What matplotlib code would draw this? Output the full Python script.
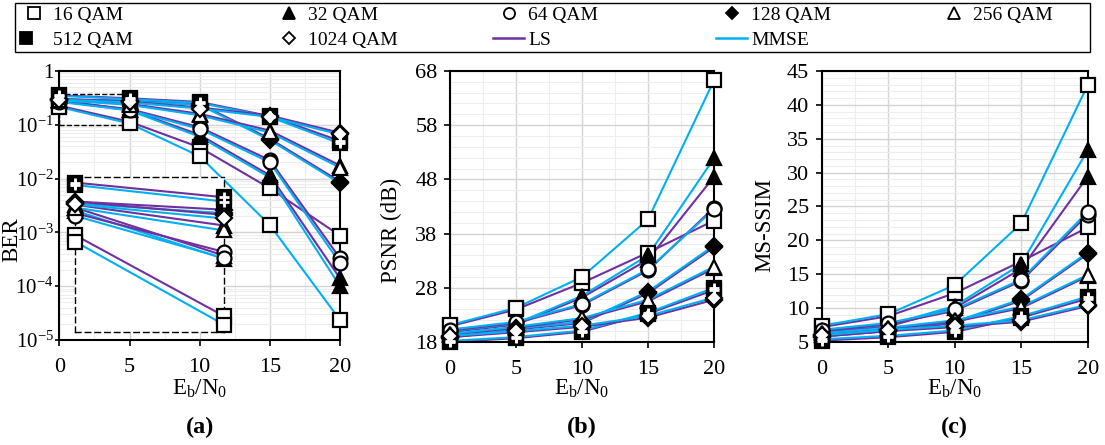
import numpy as np
import matplotlib
matplotlib.use("Agg")
import matplotlib.pyplot as plt
from matplotlib.lines import Line2D
from matplotlib.legend_handler import HandlerTuple
from matplotlib.patches import Rectangle
from matplotlib.ticker import MultipleLocator, FixedLocator, FuncFormatter, LogLocator, NullFormatter

plt.rcParams['font.family'] = ['Liberation Serif', 'DejaVu Serif']
plt.rcParams['mathtext.fontset'] = 'custom'
plt.rcParams['mathtext.rm'] = 'Liberation Serif'
plt.rcParams['mathtext.it'] = 'Liberation Serif:italic'

# Eb/N0 points
snr = [0, 5, 10, 15, 20]
qam = ['16 QAM', '32 QAM', '64 QAM', '128 QAM', '256 QAM', '512 QAM', '1024 QAM']

# BER, order 16..1024 QAM
ber_ls = [
    [0.226, 0.114, 0.038, 0.0066, 8.7e-4],
    [0.285, 0.19, 0.065, 0.0115, 1.4e-4],
    [0.272, 0.196, 0.09, 0.022, 3.3e-4],
    [0.30, 0.28, 0.245, 0.055, 0.0088],
    [0.292, 0.245, 0.16, 0.078, 0.0175],
    [0.352, 0.311, 0.265, 0.145, 0.05],
    [0.30, 0.268, 0.21, 0.148, 0.071],
]
ber_mmse = [
    [0.214, 0.106, 0.026, 0.00137, 2.35e-5],
    [0.278, 0.185, 0.060, 0.0105, 1.0e-4],
    [0.266, 0.186, 0.084, 0.020, 2.7e-4],
    [0.295, 0.272, 0.235, 0.052, 0.0082],
    [0.285, 0.235, 0.15, 0.072, 0.016],
    [0.345, 0.300, 0.255, 0.14, 0.045],
    [0.293, 0.26, 0.20, 0.14, 0.066],
]

# PSNR (dB)
psnr_ls = [
    [20.9, 24.0, 28.9, 34.5, 40.4],
    [19.8, 21.2, 26.2, 33.2, 48.5],
    [20.1, 21.5, 24.8, 31.2, 42.8],
    [18.8, 20.3, 21.5, 27.0, 35.5],
    [19.3, 20.6, 22.2, 25.5, 31.6],
    [18.0, 18.7, 19.9, 23.2, 27.6],
    [18.9, 19.8, 20.8, 22.5, 25.8],
]
psnr_mmse = [
    [21.1, 24.3, 30.0, 40.6, 66.3],
    [20.0, 21.4, 26.5, 34.0, 51.9],
    [20.3, 21.7, 25.0, 31.4, 42.5],
    [19.0, 20.5, 21.7, 27.3, 35.8],
    [19.5, 20.8, 22.4, 25.8, 31.9],
    [18.2, 18.9, 20.1, 23.4, 28.0],
    [19.1, 20.0, 21.0, 22.8, 26.2],
]

# MS-SSIM
ssim_ls = [
    [7.2, 8.8, 12.2, 16.9, 21.9],
    [6.5, 7.3, 10.0, 15.8, 29.4],
    [6.6, 7.6, 9.6, 14.0, 23.8],
    [5.8, 6.6, 7.8, 11.1, 18.0],
    [6.1, 6.9, 8.0, 10.0, 14.7],
    [5.2, 5.7, 6.5, 8.6, 11.4],
    [5.8, 6.6, 7.2, 8.0, 10.3],
]
ssim_mmse = [
    [7.4, 9.1, 13.4, 22.5, 42.9],
    [6.7, 7.5, 10.3, 16.5, 33.3],
    [6.8, 7.8, 9.8, 14.2, 24.2],
    [6.0, 6.8, 8.0, 11.3, 18.2],
    [6.3, 7.1, 8.2, 10.2, 14.9],
    [5.4, 5.9, 6.7, 8.8, 11.7],
    [6.0, 6.8, 7.4, 8.2, 10.5],
]

psnr_ticks = [18, 28, 38, 48, 58, 68]

LS_C = '#7030A0'
MMSE_C = '#00B0F0'

# marker style per QAM: (marker, face colour)
mstyle = [('s', 'white'), ('^', 'black'), ('o', 'white'), ('D', 'black'),
          ('^', 'white'), ('s', 'black'), ('D', 'white')]
msize = [10, 10.5, 10, 8, 10.5, 10, 8]


def draw_markers(ax, x, y, i, z=4):
    m, fc = mstyle[i]
    ax.plot(x, y, ls='none', marker=m, ms=msize[i], mfc=fc, mec='black',
            mew=1.6, zorder=z, clip_on=False)
    if i == 5:
        ax.plot(x, y, ls='none', marker='+', ms=7.5, mec='white', mew=2,
                zorder=z + 0.1, clip_on=False)


def draw_series(ax, x, ls_data, mmse_data):
    for i in range(len(qam)):
        ax.plot(x, ls_data[i], color=LS_C, lw=1.5, zorder=2, clip_on=False)
        ax.plot(x, mmse_data[i], color=MMSE_C, lw=1.5, zorder=2, clip_on=False)
    for i in range(len(qam)):
        draw_markers(ax, x, ls_data[i], i)
        draw_markers(ax, x, mmse_data[i], i)


def style_axes(ax, xlab_y):
    for s in ax.spines.values():
        s.set_linewidth(1.5)
    ax.set_xlim(0, 20)
    ax.xaxis.set_major_locator(MultipleLocator(5))
    ax.xaxis.set_minor_locator(MultipleLocator(2.5))
    ax.grid(True, which='major', color='#d4d4d4', lw=1.0, zorder=0)
    ax.grid(True, which='minor', color='#ededed', lw=0.8, zorder=0)
    ax.set_axisbelow(True)
    ax.tick_params(which='major', labelsize=16, length=4, width=1.2, pad=5)
    ax.tick_params(axis='x', which='major', pad=9)
    ax.tick_params(which='minor', length=0)
    ax.set_xlabel(r'E$_\mathrm{b}$/N$_0$', fontsize=16.5, va='top')
    ax.xaxis.set_label_coords(0.5, xlab_y)


fig = plt.figure(figsize=(11.05, 4.45), dpi=100)
ax1 = fig.add_axes([0.0537, 0.236, 0.254, 0.6045])
ax2 = fig.add_axes([0.4072, 0.2315, 0.239, 0.609])
ax3 = fig.add_axes([0.7436, 0.2315, 0.2407, 0.609])

# (a) BER
ax1.set_yscale('log')
draw_series(ax1, snr, ber_ls, ber_mmse)
style_axes(ax1, -0.141)
ax1.set_ylim(1e-5, 1)
ax1.yaxis.set_major_locator(LogLocator(base=10, numticks=10))
ax1.yaxis.set_minor_locator(LogLocator(base=10, subs=np.arange(2, 10), numticks=20))
ax1.yaxis.set_minor_formatter(NullFormatter())
ax1.yaxis.set_major_formatter(FuncFormatter(
    lambda v, p: '1' if abs(v - 1) < 1e-9 else r'10$^{%d}$' % int(round(np.log10(v)))))
ax1.tick_params(axis='y', which='major', length=3, pad=1, labelsize=15)
ax1.set_ylabel('BER', fontsize=16.5, va='center')
ax1.yaxis.set_label_coords(-0.17, 0.372)

# zoom box and inset for 0..5 dB
ax1.add_patch(Rectangle((0, 0.1), 5, 0.27, fill=False, ls='--', lw=1.0,
                        ec='black', zorder=3))
ins = ax1.inset_axes([0.056, 0.031, 0.531, 0.576])
ins.set_facecolor('white')
ins.set_yscale('log')
draw_series(ins, snr[:2], [r[:2] for r in ber_ls], [r[:2] for r in ber_mmse])
ins.set_xlim(0, 5)
ins.set_ylim(0.1, 0.37)
ins.set_xticks([])
ins.set_yticks([])
ins.yaxis.set_minor_locator(FixedLocator([]))
for s in ins.spines.values():
    s.set_linestyle((0, (4, 3)))
    s.set_linewidth(1.0)

# (b) PSNR
draw_series(ax2, snr, psnr_ls, psnr_mmse)
style_axes(ax2, -0.133)
ax2.set_ylim(18, 68)
ax2.yaxis.set_major_locator(FixedLocator(psnr_ticks))
ax2.yaxis.set_minor_locator(FixedLocator(np.arange(18, 69, 2)))
ax2.set_ylabel('PSNR (dB)', fontsize=16.5, va='center')
ax2.yaxis.set_label_coords(-0.22, 0.41)

# (c) MS-SSIM
draw_series(ax3, snr, ssim_ls, ssim_mmse)
style_axes(ax3, -0.133)
ax3.set_ylim(5, 45)
ax3.yaxis.set_major_locator(MultipleLocator(5))
ax3.yaxis.set_minor_locator(MultipleLocator(1))
ax3.set_ylabel('MS-SSIM', fontsize=16.5, va='center')
ax3.yaxis.set_label_coords(-0.213, 0.432)

for ax, lab, yy in zip([ax1, ax2, ax3], ['(a)', '(b)', '(c)'], [-0.327, -0.317, -0.317]):
    ax.text(0.5, yy, lab, transform=ax.transAxes, ha='center', va='center',
            fontsize=17.5, fontweight='bold')

# legend: one small legend per column inside a common frame
handles = []
for i in range(len(qam)):
    m, fc = mstyle[i]
    h = Line2D([], [], ls='none', marker=m, ms=msize[i] - 2, mfc=fc, mec='black', mew=1.3)
    if i == 5:
        h = (h, Line2D([], [], ls='none', marker='+', ms=6, mec='white', mew=1.8))
    handles.append(h)
h_ls = Line2D([], [], color=LS_C, lw=1.8)
h_mmse = Line2D([], [], color=MMSE_C, lw=1.8)
labels = qam + ['LS', 'MMSE']
allh = handles + [h_ls, h_mmse]
columns = [[0, 5], [1, 6], [2, 7], [3, 8], [4]]
col_x = [18, 273, 493, 716, 938]
W, H = 1105, 445
for cols, cx in zip(columns, col_x):
    lg = fig.legend([allh[k] for k in cols], [labels[k] for k in cols],
                    loc='upper left', bbox_to_anchor=(cx / W, 1 - 6 / H),
                    fontsize=14, frameon=False, borderpad=0.0, labelspacing=0.4,
                    borderaxespad=0, handlelength=1.6, handletextpad=0.2,
                    handler_map={tuple: HandlerTuple(ndivide=None, pad=0)})
fig.add_artist(Rectangle((15 / W, 1 - 52 / H), 1075 / W, 49 / H, transform=fig.transFigure,
                         fill=False, ec='black', lw=1.0))

fig.savefig('out.png', dpi=100)
